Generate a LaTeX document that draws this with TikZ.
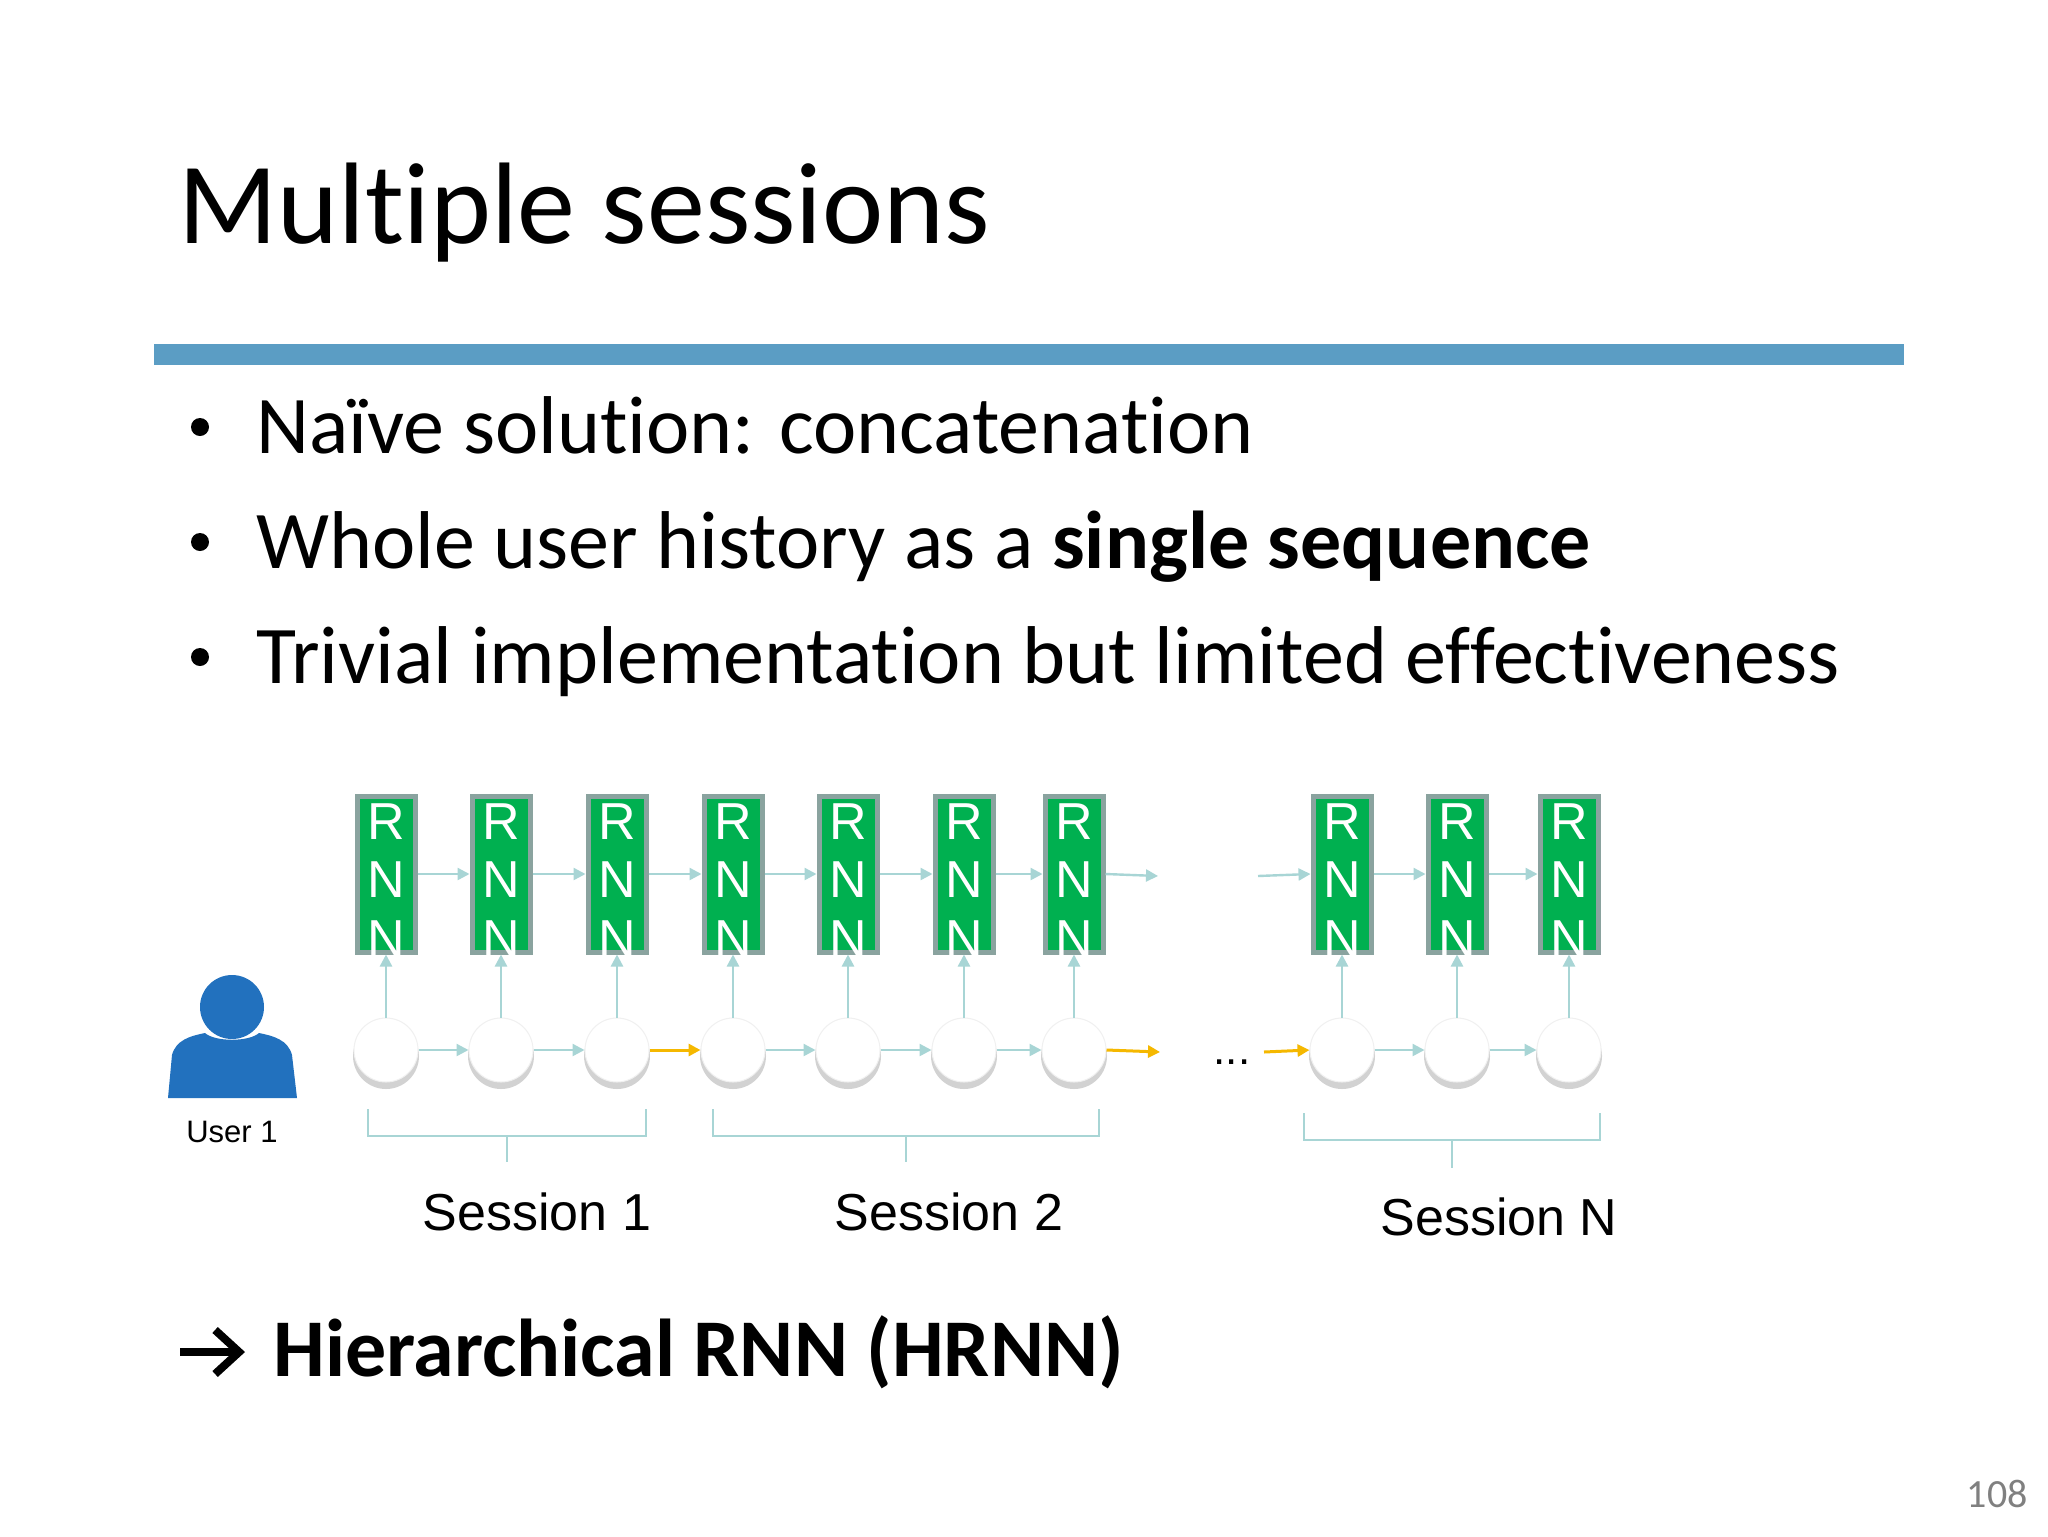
\documentclass[tikz,border=0pt]{standalone}
\usepackage{fontspec}
\setmainfont[Ligatures=CommonOff]{Carlito}
\newfontfamily\arialf{Liberation Sans}
\usetikzlibrary{arrows.meta}
\definecolor{barblue}{HTML}{5B9DC4}
\definecolor{rnngreen}{HTML}{00B050}
\definecolor{rnnedge}{HTML}{8AA39F}
\definecolor{teal}{HTML}{A8D5D5}
\definecolor{orng}{HTML}{F5B800}
\definecolor{userblue}{HTML}{2271BE}
\begin{document}
\begin{tikzpicture}[x=0.5pt,y=-0.5pt,
  rnn/.style={draw=rnnedge,line width=2.5pt,fill=rnngreen,minimum width=29pt,minimum height=78pt,inner sep=0pt},
  rnnl/.style={text=white,font=\arialf\fontsize{26}{26}\selectfont},
  circ/.style={circle,fill=white,minimum size=32pt,inner sep=0pt,draw=gray!12,line width=0.5pt},
  tarr/.style={draw=teal,line width=1.2pt,-{Triangle[length=6pt,width=6pt]}},
  oarr/.style={draw=orng,line width=1.5pt,-{Triangle[length=6pt,width=6pt]}},
  brace/.style={draw=teal,line width=0.8pt},
  sess/.style={font=\arialf\fontsize{26}{26}\selectfont},
  bul/.style={anchor=base west,inner sep=0pt,font=\fontsize{41}{41}\selectfont}]
\useasboundingbox (0,0) rectangle (2048,1536);
\fill[white] (0,0) rectangle (2048,1536);
\node[anchor=base west,inner sep=0pt,font=\fontsize{58}{58}\selectfont] (title) at (178,243) {Multiple sessions};
\fill[barblue] (154,344) rectangle (1904,365);
\node[bul] (b1) at (256,453) {Naïve solution: concatenation};
\node[bul] (b2) at (256,568) {Whole user history as a \textbf{single sequence}};
\node[bul] (b3) at (256,683) {Trivial implementation but limited effectiveness};
\foreach \y in {453,568,683} \fill (200,\y-26) circle (9);
% RNN boxes and circles
\foreach \i/\x in {1/386,2/501,3/617,4/733,5/848,6/964,7/1074,8/1342,9/1457,10/1569}{
  \node[rnn] (r\i) at (\x,874) {};
  \node[rnnl] at (\x,822) {R};
  \node[rnnl] at (\x,880) {N};
  \node[rnnl] at (\x,939) {N};
  \fill[gray!35] (\x,1056) circle (33);
  \node[circ] (c\i) at (\x,1050) {};
  \draw[tarr] (c\i.north) -- (r\i.south);
}
\foreach \a/\b in {1/2,2/3,3/4,4/5,5/6,6/7,8/9,9/10}{
  \draw[tarr] (r\a.east) -- (r\b.west);
}
\foreach \a/\b in {1/2,2/3,4/5,5/6,6/7,8/9,9/10}{
  \draw[tarr] (c\a.east) -- (c\b.west);
}
\draw[oarr] (c3.east) -- (c4.west);
\coordinate (re) at (1158,876);
\coordinate (rs) at (1258,876);
\coordinate (ce) at (1160,1052);
\coordinate (cs) at (1264,1052);
\draw[tarr] (r7.east) -- (re);
\draw[tarr] (rs) -- (r8.west);
\draw[oarr] (c7.east) -- (ce);
\draw[oarr] (cs) -- (c8.west);
\node[font=\arialf\fontsize{22}{22}\selectfont] (dots) at (1232,1062) {...};
% user
\fill[userblue] (232,1007) circle (32);
\fill[userblue] (168,1098) -- (172,1055) .. controls (176,1040) and (190,1036) .. (205,1033) .. controls (215,1042) and (249,1042) .. (259,1033) .. controls (274,1036) and (288,1040) .. (292,1055) -- (297,1098) -- cycle;
\node[font=\arialf\fontsize{15.5}{15.5}\selectfont] (user) at (232,1132) {User 1};
% braces
\draw[brace] (368,1109) -- (368,1136) -- (646,1136) -- (646,1109);
\draw[brace] (507,1136) -- (507,1162);
\draw[brace] (713,1109) -- (713,1136) -- (1099,1136) -- (1099,1109);
\draw[brace] (906,1136) -- (906,1162);
\draw[brace] (1304,1113) -- (1304,1140) -- (1600,1140) -- (1600,1113);
\draw[brace] (1452,1140) -- (1452,1168);
\node[sess] (s1) at (537,1212) {Session 1};
\node[sess] (s2) at (949,1212) {Session 2};
\node[sess] (sN) at (1499,1217) {Session N};
\node[bul,font=\bfseries\fontsize{41}{41}\selectfont] (hrnn) at (273,1376) {Hierarchical RNN (HRNN)};
\draw[line width=4pt,-{Straight Barb[length=12pt,width=22pt]}] (180,1352) -- (245,1352);
\node[anchor=base east,inner sep=0pt,text=gray,font=\fontsize{20}{20}\selectfont] (pg) at (2028,1507) {108};
\end{tikzpicture}
\end{document}
